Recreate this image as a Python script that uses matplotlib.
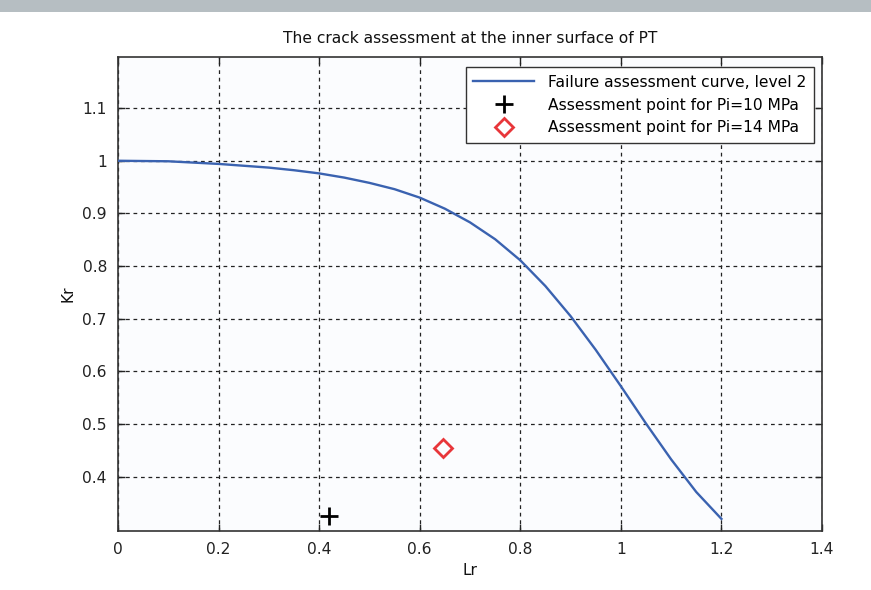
import matplotlib
matplotlib.use("Agg")
import matplotlib.pyplot as plt
from matplotlib.patches import Rectangle

plt.rcParams['font.family'] = ['DejaVu Sans']

# Failure assessment curve, level 2
lr_curve = [0.0, 0.1, 0.2, 0.3, 0.35, 0.4, 0.45, 0.5, 0.55, 0.6, 0.65, 0.7,
            0.75, 0.8, 0.85, 0.9, 0.95, 1.0, 1.05, 1.1, 1.15, 1.2]
kr_curve = [1.000, 0.999, 0.994, 0.987, 0.982, 0.976, 0.968, 0.958, 0.946,
            0.930, 0.909, 0.883, 0.851, 0.811, 0.762, 0.705, 0.641, 0.572,
            0.501, 0.433, 0.371, 0.320]

# Assessment points
pt10_lr, pt10_kr = [0.42], [0.326]
pt14_lr, pt14_kr = [0.646], [0.455]

legend_labels = ["Failure assessment curve, level 2",
                 "Assessment point for Pi=10 MPa",
                 "Assessment point for Pi=14 MPa"]
xticks = [0, 0.2, 0.4, 0.6, 0.8, 1.0, 1.2, 1.4]
xtick_labels = ["0", "0.2", "0.4", "0.6", "0.8", "1", "1.2", "1.4"]
yticks = [0.4, 0.5, 0.6, 0.7, 0.8, 0.9, 1.0, 1.1]
ytick_labels = ["0.4", "0.5", "0.6", "0.7", "0.8", "0.9", "1", "1.1"]

FS = 11.2

fig = plt.figure(figsize=(8.71, 5.90), dpi=100)
fig.patches.append(Rectangle((0, 1 - 12 / 590), 1, 12 / 590, transform=fig.transFigure,
                             facecolor="#b6bec2", edgecolor="none", zorder=0))
ax = fig.add_axes([118 / 871, 1 - 531 / 590, (822 - 118) / 871, (531 - 57) / 590])
ax.set_facecolor("#fbfcfe")

ax.plot(lr_curve, kr_curve, color="#3a62b0", lw=1.7, label=legend_labels[0], zorder=3)
ax.plot(pt10_lr, pt10_kr, linestyle="none", marker="+", markersize=13, mew=2.0,
        color="black", label=legend_labels[1], zorder=4)
ax.plot(pt14_lr, pt14_kr, linestyle="none", marker="D", markersize=9, mew=2.0,
        markerfacecolor="none", markeredgecolor="#e8363a", label=legend_labels[2], zorder=4)

ax.set_xlim(0, 1.4)
ax.set_ylim(0.297, 1.197)
ax.set_xticks(xticks)
ax.set_xticklabels(xtick_labels)
ax.set_yticks(yticks)
ax.set_yticklabels(ytick_labels)
ax.tick_params(direction="in", length=5, width=1, top=True, right=True,
               labelsize=FS, colors="#222222")
ax.tick_params(axis="x", pad=8)
ax.tick_params(axis="y", pad=8)
ax.grid(True, color="#222222", linestyle=(0, (3, 3)), linewidth=0.9)
for s in ax.spines.values():
    s.set_color("#333333")
    s.set_linewidth(1.2)

ax.set_title("The crack assessment at the inner surface of PT", fontsize=FS, pad=10,
             color="#111111")
ax.set_xlabel("Lr", fontsize=FS, labelpad=4, color="#111111")
ax.set_ylabel("Kr", fontsize=FS, labelpad=5, color="#111111")

leg = ax.legend(loc="upper right", bbox_to_anchor=(0.9886, 0.979), fontsize=FS,
                frameon=True, fancybox=False, edgecolor="#333333", framealpha=1,
                facecolor="white", handlelength=3.9, borderaxespad=0, borderpad=0.5,
                labelspacing=0.5, handletextpad=0.9)
leg.get_frame().set_linewidth(1.0)

fig.savefig("out.png", dpi=100, facecolor="white")
